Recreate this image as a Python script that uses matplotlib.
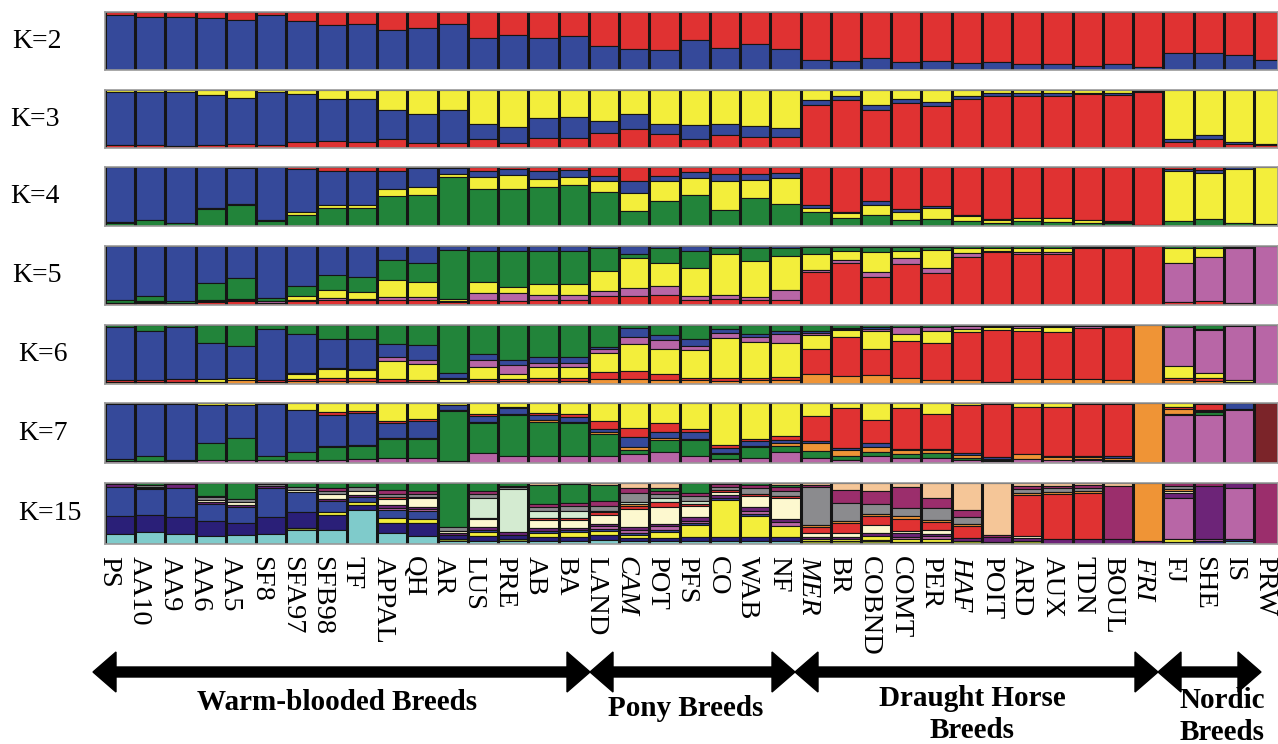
import numpy as np
import matplotlib
matplotlib.use("Agg")
import matplotlib.pyplot as plt
from matplotlib.patches import Polygon

breeds = ["PS", "AA10", "AA9", "AA6", "AA5", "SF8", "SFA97", "SFB98", "TF", "APPAL",
          "QH", "AR", "LUS", "PRE", "AB", "BA", "LAND", "CAM", "POT", "PFS", "CO",
          "WAB", "NF", "MER", "BR", "COBND", "COMT", "PER", "HAF", "POIT", "ARD",
          "AUX", "TDN", "BOUL", "FRI", "FJ", "SHE", "IS", "PRW"]
italic_breeds = ["CAM", "MER", "HAF", "FRI"]

# colours
BLUE, RED, YEL, GRN = "#35499a", "#e03232", "#f3ee3b", "#22843a"
PINK, ORA, MAR = "#b866a6", "#ef9436", "#7b2429"

# stacking order is top -> bottom in every row list
k2_cols = [RED, BLUE]
k2_red = [0.05, 0.08, 0.08, 0.10, 0.13, 0.06, 0.15, 0.22, 0.20, 0.31, 0.27, 0.20, 0.44,
          0.40, 0.44, 0.42, 0.58, 0.63, 0.65, 0.49, 0.62, 0.55, 0.63, 0.82, 0.85, 0.80,
          0.87, 0.85, 0.88, 0.87, 0.89, 0.89, 0.93, 0.90, 0.94, 0.71, 0.71, 0.74, 0.83]
k2 = [[r, 1 - r] for r in k2_red]

k3_cols = [YEL, BLUE, RED]
k3 = [[0.03, 0.92, 0.05], [0.03, 0.92, 0.05], [0.03, 0.93, 0.04], [0.09, 0.85, 0.06],
      [0.13, 0.80, 0.07], [0.04, 0.91, 0.05], [0.07, 0.83, 0.10], [0.15, 0.73, 0.12],
      [0.16, 0.73, 0.11], [0.35, 0.50, 0.15], [0.42, 0.49, 0.09], [0.35, 0.56, 0.09],
      [0.59, 0.26, 0.15], [0.64, 0.27, 0.09], [0.48, 0.35, 0.17], [0.47, 0.36, 0.17],
      [0.53, 0.21, 0.26], [0.42, 0.26, 0.32], [0.59, 0.16, 0.25], [0.60, 0.25, 0.15],
      [0.59, 0.19, 0.22], [0.62, 0.19, 0.19], [0.65, 0.16, 0.19], [0.17, 0.09, 0.74],
      [0.10, 0.08, 0.82], [0.26, 0.09, 0.65], [0.16, 0.06, 0.78], [0.20, 0.07, 0.73],
      [0.10, 0.06, 0.84], [0.06, 0.04, 0.90], [0.06, 0.04, 0.90], [0.06, 0.05, 0.89],
      [0.05, 0.02, 0.93], [0.05, 0.03, 0.92], [0.01, 0.03, 0.96], [0.84, 0.06, 0.10],
      [0.77, 0.08, 0.15], [0.90, 0.03, 0.07], [0.93, 0.02, 0.05]]

k4_cols = [RED, BLUE, YEL, GRN]
k4 = [[0.00, 0.94, 0.01, 0.05], [0.00, 0.90, 0.00, 0.10], [0.00, 0.95, 0.00, 0.05],
      [0.00, 0.69, 0.03, 0.28], [0.01, 0.61, 0.03, 0.35], [0.00, 0.90, 0.01, 0.09],
      [0.04, 0.73, 0.04, 0.19], [0.07, 0.58, 0.05, 0.30], [0.07, 0.57, 0.05, 0.31],
      [0.07, 0.30, 0.13, 0.50], [0.02, 0.32, 0.14, 0.52], [0.01, 0.11, 0.05, 0.83],
      [0.06, 0.11, 0.20, 0.63], [0.03, 0.11, 0.24, 0.62], [0.06, 0.14, 0.14, 0.66],
      [0.05, 0.12, 0.14, 0.69], [0.16, 0.07, 0.20, 0.57], [0.24, 0.20, 0.31, 0.25],
      [0.16, 0.08, 0.33, 0.43], [0.08, 0.11, 0.28, 0.53], [0.12, 0.11, 0.50, 0.27],
      [0.12, 0.10, 0.31, 0.47], [0.11, 0.07, 0.44, 0.38], [0.65, 0.04, 0.07, 0.24],
      [0.76, 0.02, 0.08, 0.14], [0.58, 0.06, 0.18, 0.18], [0.72, 0.04, 0.14, 0.10],
      [0.66, 0.03, 0.19, 0.12], [0.82, 0.01, 0.09, 0.08], [0.88, 0.02, 0.05, 0.05],
      [0.86, 0.01, 0.05, 0.08], [0.86, 0.01, 0.07, 0.06], [0.90, 0.00, 0.05, 0.05],
      [0.92, 0.02, 0.01, 0.05], [0.98, 0.00, 0.00, 0.02], [0.03, 0.03, 0.86, 0.08],
      [0.05, 0.05, 0.78, 0.12], [0.00, 0.03, 0.92, 0.05], [0.00, 0.00, 0.97, 0.03]]

k5_cols = [BLUE, GRN, YEL, PINK, RED]
k5 = [[0.91, 0.05, 0.00, 0.01, 0.03], [0.85, 0.08, 0.02, 0.01, 0.04], [0.94, 0.03, 0.00, 0.00, 0.03],
      [0.63, 0.28, 0.02, 0.02, 0.05], [0.54, 0.35, 0.03, 0.02, 0.06], [0.88, 0.05, 0.01, 0.02, 0.04],
      [0.68, 0.16, 0.07, 0.02, 0.07], [0.50, 0.24, 0.14, 0.03, 0.09], [0.52, 0.26, 0.11, 0.03, 0.08],
      [0.23, 0.34, 0.29, 0.05, 0.09], [0.28, 0.33, 0.26, 0.05, 0.08], [0.06, 0.83, 0.04, 0.02, 0.05],
      [0.08, 0.53, 0.18, 0.12, 0.09], [0.08, 0.61, 0.10, 0.15, 0.06], [0.08, 0.57, 0.18, 0.08, 0.09],
      [0.08, 0.57, 0.18, 0.08, 0.09], [0.04, 0.38, 0.34, 0.09, 0.15], [0.14, 0.07, 0.50, 0.13, 0.16],
      [0.04, 0.24, 0.40, 0.15, 0.17], [0.08, 0.29, 0.48, 0.06, 0.09], [0.03, 0.11, 0.69, 0.07, 0.10],
      [0.04, 0.21, 0.61, 0.05, 0.09], [0.04, 0.13, 0.58, 0.16, 0.09], [0.01, 0.13, 0.26, 0.04, 0.56],
      [0.01, 0.08, 0.14, 0.05, 0.72], [0.02, 0.09, 0.33, 0.09, 0.47], [0.01, 0.07, 0.12, 0.11, 0.69],
      [0.01, 0.06, 0.30, 0.08, 0.55], [0.00, 0.03, 0.09, 0.07, 0.81], [0.00, 0.03, 0.06, 0.02, 0.89],
      [0.00, 0.03, 0.07, 0.03, 0.87], [0.00, 0.03, 0.07, 0.03, 0.87], [0.00, 0.02, 0.00, 0.02, 0.96],
      [0.00, 0.02, 0.00, 0.02, 0.96], [0.00, 0.00, 0.00, 0.00, 1.00], [0.00, 0.03, 0.26, 0.66, 0.05],
      [0.00, 0.04, 0.15, 0.74, 0.07], [0.00, 0.01, 0.03, 0.93, 0.03], [0.00, 0.00, 0.00, 1.00, 0.00]]

k6_cols = [GRN, BLUE, PINK, YEL, RED, ORA]
k6 = [[0.04, 0.89, 0.00, 0.00, 0.03, 0.04], [0.11, 0.82, 0.00, 0.00, 0.03, 0.04],
      [0.03, 0.89, 0.00, 0.00, 0.04, 0.04], [0.30, 0.62, 0.00, 0.04, 0.00, 0.04],
      [0.35, 0.54, 0.00, 0.05, 0.00, 0.06], [0.07, 0.86, 0.00, 0.00, 0.03, 0.04],
      [0.15, 0.66, 0.02, 0.08, 0.04, 0.05], [0.23, 0.50, 0.02, 0.15, 0.05, 0.05],
      [0.24, 0.51, 0.02, 0.13, 0.05, 0.05], [0.32, 0.22, 0.07, 0.30, 0.05, 0.04],
      [0.34, 0.26, 0.06, 0.27, 0.04, 0.03], [0.82, 0.07, 0.02, 0.05, 0.00, 0.04],
      [0.49, 0.10, 0.12, 0.20, 0.04, 0.05], [0.59, 0.08, 0.16, 0.08, 0.04, 0.05],
      [0.55, 0.10, 0.07, 0.17, 0.06, 0.05], [0.55, 0.10, 0.07, 0.17, 0.06, 0.05],
      [0.37, 0.04, 0.07, 0.32, 0.12, 0.08], [0.05, 0.16, 0.11, 0.46, 0.14, 0.08],
      [0.17, 0.09, 0.15, 0.42, 0.11, 0.06], [0.23, 0.12, 0.08, 0.46, 0.05, 0.06],
      [0.06, 0.07, 0.09, 0.67, 0.06, 0.05], [0.16, 0.04, 0.09, 0.60, 0.05, 0.06],
      [0.11, 0.05, 0.14, 0.58, 0.06, 0.06], [0.10, 0.03, 0.04, 0.23, 0.43, 0.17],
      [0.05, 0.02, 0.02, 0.12, 0.65, 0.14], [0.03, 0.03, 0.05, 0.29, 0.45, 0.15],
      [0.04, 0.00, 0.11, 0.12, 0.63, 0.10], [0.03, 0.00, 0.07, 0.20, 0.63, 0.07],
      [0.01, 0.01, 0.04, 0.06, 0.82, 0.06], [0.02, 0.02, 0.00, 0.04, 0.88, 0.04],
      [0.01, 0.01, 0.03, 0.06, 0.81, 0.08], [0.01, 0.01, 0.02, 0.08, 0.80, 0.08],
      [0.01, 0.01, 0.03, 0.00, 0.87, 0.08], [0.02, 0.01, 0.00, 0.00, 0.91, 0.06],
      [0.00, 0.00, 0.00, 0.00, 0.00, 1.00], [0.03, 0.00, 0.66, 0.20, 0.05, 0.06],
      [0.07, 0.02, 0.72, 0.09, 0.05, 0.05], [0.02, 0.00, 0.91, 0.03, 0.02, 0.02],
      [0.00, 0.00, 1.00, 0.00, 0.00, 0.00]]

k7_cols = [YEL, RED, BLUE, ORA, GRN, PINK, MAR]
k7 = [[0.02, 0.00, 0.92, 0.00, 0.03, 0.03, 0], [0.02, 0.00, 0.86, 0.00, 0.09, 0.03, 0],
      [0.02, 0.00, 0.93, 0.00, 0.02, 0.03, 0], [0.04, 0.00, 0.62, 0.00, 0.29, 0.05, 0],
      [0.04, 0.00, 0.55, 0.00, 0.36, 0.05, 0], [0.02, 0.00, 0.87, 0.00, 0.06, 0.05, 0],
      [0.11, 0.00, 0.70, 0.00, 0.14, 0.05, 0], [0.15, 0.05, 0.52, 0.02, 0.21, 0.05, 0],
      [0.14, 0.03, 0.53, 0.01, 0.23, 0.06, 0], [0.30, 0.04, 0.25, 0.01, 0.31, 0.09, 0],
      [0.26, 0.04, 0.29, 0.01, 0.31, 0.09, 0], [0.03, 0.01, 0.07, 0.02, 0.83, 0.04, 0],
      [0.18, 0.04, 0.10, 0.02, 0.50, 0.16, 0], [0.07, 0.02, 0.09, 0.02, 0.68, 0.12, 0],
      [0.17, 0.03, 0.09, 0.03, 0.56, 0.12, 0], [0.18, 0.05, 0.08, 0.02, 0.56, 0.11, 0],
      [0.30, 0.13, 0.06, 0.03, 0.36, 0.12, 0], [0.42, 0.15, 0.16, 0.05, 0.07, 0.15, 0],
      [0.34, 0.14, 0.11, 0.03, 0.19, 0.19, 0], [0.44, 0.04, 0.12, 0.02, 0.26, 0.12, 0],
      [0.70, 0.05, 0.08, 0.02, 0.08, 0.07, 0], [0.60, 0.04, 0.08, 0.02, 0.18, 0.08, 0],
      [0.55, 0.06, 0.05, 0.05, 0.11, 0.18, 0], [0.21, 0.43, 0.02, 0.14, 0.12, 0.08, 0],
      [0.09, 0.66, 0.03, 0.10, 0.07, 0.05, 0], [0.29, 0.38, 0.07, 0.07, 0.07, 0.12, 0],
      [0.09, 0.68, 0.02, 0.06, 0.06, 0.09, 0], [0.19, 0.58, 0.02, 0.05, 0.07, 0.09, 0],
      [0.04, 0.80, 0.03, 0.05, 0.03, 0.05, 0], [0.02, 0.88, 0.04, 0.01, 0.02, 0.03, 0],
      [0.07, 0.78, 0.00, 0.09, 0.00, 0.06, 0], [0.07, 0.82, 0.01, 0.05, 0.00, 0.05, 0],
      [0.02, 0.86, 0.02, 0.04, 0.01, 0.05, 0], [0.01, 0.88, 0.02, 0.04, 0.01, 0.04, 0],
      [0.00, 0.00, 0.00, 1.00, 0.00, 0.00, 0], [0.07, 0.03, 0.00, 0.08, 0.02, 0.80, 0],
      [0.02, 0.09, 0.02, 0.02, 0.05, 0.80, 0], [0.00, 0.00, 0.10, 0.00, 0.02, 0.88, 0],
      [0, 0, 0, 0, 0, 0, 1.0]]

# K=15 clusters, top -> bottom
k15_names = ["peach", "green", "plum", "grey", "lgreen", "orange", "red", "cream",
             "purple", "pink", "blue", "yellow", "navy", "olive", "cyan"]
k15_colmap = {"peach": "#f5c698", "green": GRN, "plum": "#9b2e6c", "grey": "#8b8b8e",
              "lgreen": "#d4ebd1", "orange": ORA, "red": RED, "cream": "#fdf8cf",
              "purple": "#6d2478", "pink": PINK, "blue": BLUE, "yellow": YEL,
              "navy": "#2a1f78", "olive": "#8d9b2c", "cyan": "#7fcbcb"}
k15_parts = [
    dict(grey=0.02, purple=0.04, blue=0.48, navy=0.30, cyan=0.16),
    dict(green=0.03, grey=0.03, cream=0.02, purple=0.02, blue=0.43, navy=0.28, cyan=0.19),
    dict(purple=0.06, grey=0.02, blue=0.47, navy=0.29, cyan=0.16),
    dict(green=0.21, plum=0.02, grey=0.04, cream=0.04, purple=0.02, blue=0.28, navy=0.24, cyan=0.12),
    dict(green=0.26, grey=0.04, cream=0.06, purple=0.02, blue=0.26, navy=0.20, cyan=0.14),
    dict(green=0.02, purple=0.04, grey=0.03, blue=0.46, navy=0.29, cyan=0.16),
    dict(green=0.06, grey=0.05, cream=0.04, blue=0.32, olive=0.03, navy=0.26, cyan=0.22),
    dict(green=0.08, plum=0.05, grey=0.05, cream=0.07, purple=0.04, blue=0.18, yellow=0.04, navy=0.25, cyan=0.22),
    dict(green=0.07, grey=0.06, cream=0.06, purple=0.04, blue=0.08, yellow=0.05, navy=0.09, cyan=0.55),
    dict(green=0.12, grey=0.06, plum=0.05, red=0.03, cream=0.10, purple=0.04, pink=0.03, blue=0.14, yellow=0.07, navy=0.16, cyan=0.18),
    dict(green=0.12, grey=0.05, plum=0.05, red=0.02, cream=0.13, purple=0.03, pink=0.03, blue=0.13, yellow=0.07, navy=0.20, cyan=0.12),
    dict(green=0.72, grey=0.06, cream=0.04, purple=0.03, navy=0.06, olive=0.04, cyan=0.05),
    dict(green=0.12, grey=0.05, lgreen=0.30, plum=0.05, red=0.02, cream=0.12, purple=0.04, blue=0.03, yellow=0.06, navy=0.07, cyan=0.05),
    dict(green=0.05, grey=0.03, lgreen=0.68, plum=0.02, purple=0.05, navy=0.06, olive=0.03, cyan=0.05),
    dict(peach=0.03, green=0.28, grey=0.06, lgreen=0.11, plum=0.05, red=0.03, cream=0.12, purple=0.04, blue=0.03, yellow=0.06, navy=0.06, cyan=0.05),
    dict(peach=0.02, green=0.28, grey=0.08, lgreen=0.10, plum=0.04, red=0.02, cream=0.12, purple=0.03, blue=0.04, yellow=0.06, navy=0.06, cyan=0.05),
    dict(peach=0.03, green=0.22, plum=0.08, grey=0.06, orange=0.02, red=0.04, cream=0.13, purple=0.03, pink=0.04, blue=0.03, yellow=0.06, navy=0.07, cyan=0.05),
    dict(peach=0.07, plum=0.08, grey=0.14, lgreen=0.03, orange=0.03, red=0.04, cream=0.26, purple=0.05, pink=0.04, blue=0.03, yellow=0.05, navy=0.05, cyan=0.04),
    dict(peach=0.07, green=0.05, plum=0.04, grey=0.06, lgreen=0.06, red=0.06, cream=0.25, purple=0.03, pink=0.06, blue=0.03, yellow=0.08, navy=0.05, cyan=0.04),
    dict(green=0.15, plum=0.04, grey=0.08, lgreen=0.04, red=0.04, cream=0.15, purple=0.06, pink=0.04, blue=0.03, yellow=0.18, navy=0.06, cyan=0.04),
    dict(green=0.02, plum=0.04, grey=0.05, red=0.03, cream=0.04, purple=0.05, blue=0.03, yellow=0.55, navy=0.05, cyan=0.05),
    dict(green=0.03, plum=0.05, grey=0.08, red=0.03, cream=0.17, purple=0.05, pink=0.05, blue=0.03, yellow=0.30, navy=0.06, cyan=0.05),
    dict(peach=0.03, green=0.03, plum=0.05, grey=0.08, red=0.03, cream=0.31, purple=0.04, pink=0.06, yellow=0.16, navy=0.06, cyan=0.04),
    dict(peach=0.03, plum=0.03, grey=0.58, orange=0.03, red=0.09, cream=0.06, purple=0.03, yellow=0.04, olive=0.04),
    dict(peach=0.10, plum=0.21, grey=0.27, orange=0.03, red=0.15, cream=0.06, purple=0.03, yellow=0.04, olive=0.04),
    dict(peach=0.11, plum=0.19, grey=0.15, orange=0.03, red=0.12, cream=0.12, purple=0.04, yellow=0.06, navy=0.02, olive=0.04),
    dict(peach=0.05, plum=0.30, grey=0.12, orange=0.04, red=0.16, cream=0.04, purple=0.05, pink=0.03, yellow=0.04, olive=0.03),
    dict(peach=0.23, plum=0.16, grey=0.18, orange=0.03, red=0.13, cream=0.05, purple=0.04, pink=0.04, yellow=0.05, olive=0.03),
    dict(peach=0.42, plum=0.11, grey=0.11, orange=0.03, red=0.19, purple=0.06, olive=0.04),
    dict(peach=0.83, plum=0.03, purple=0.08, olive=0.03),
    dict(peach=0.05, plum=0.05, grey=0.06, orange=0.03, red=0.62, cream=0.03, purple=0.05, olive=0.05),
    dict(peach=0.04, plum=0.04, grey=0.05, orange=0.03, red=0.68, purple=0.08),
    dict(peach=0.03, plum=0.04, grey=0.05, orange=0.03, red=0.70, purple=0.07),
    dict(peach=0.04, plum=0.82, purple=0.08),
    dict(orange=0.94, purple=0.05),
    dict(plum=0.05, grey=0.04, orange=0.03, cream=0.03, purple=0.06, pink=0.60, yellow=0.04, cyan=0.03),
    dict(plum=0.05, purple=0.82, pink=0.04, navy=0.04),
    dict(purple=0.08, pink=0.80, navy=0.03, cyan=0.05),
    dict(plum=1.0),
]
k15 = [[d.get(n, 0.0) for n in k15_names] for d in k15_parts]
k15_cols = [k15_colmap[n] for n in k15_names]

rows = [("K=2", k2, k2_cols), ("K=3", k3, k3_cols), ("K=4", k4, k4_cols),
        ("K=5", k5, k5_cols), ("K=6", k6, k6_cols), ("K=7", k7, k7_cols),
        ("K=15", k15, k15_cols)]

groups = [("Warm-blooded Breeds", 93, 590), ("Pony Breeds", 590, 795),
          ("Draught Horse\nBreeds", 795, 1158), ("Nordic\nBreeds", 1158, 1261)]

W, H = 1278, 744
fig = plt.figure(figsize=(W / 100, H / 100), dpi=100)
serif = "Liberation Serif"

row_tops = [12, 90, 167, 246, 325, 403, 483]
row_h = [58, 58, 59, 59, 59, 60, 61]
label_x = [12, 10, 10, 12, 18, 18, 18]
left_px = 105
col_w = 30.24
n = len(breeds)

for (lab, data, cols), top, h, lx in zip(rows, row_tops, row_h, label_x):
    ax = fig.add_axes([left_px / W, 1 - (top + h) / H, (W - left_px) / W, h / H])
    arr = np.array(data, dtype=float)
    arr = arr / arr.sum(axis=1, keepdims=True)
    for i in range(n):
        upper = 1.0
        for j, v in enumerate(arr[i]):
            if v <= 0:
                continue
            ax.bar(i, v, bottom=upper - v, width=1.0, color=cols[j],
                   edgecolor="#151515", linewidth=0.8)
            upper -= v
    ax.vlines(np.arange(-0.5, n), 0, 1, color="#151515", lw=2.2)
    ax.set_xlim(-0.5, -0.5 + (W - left_px) / col_w)
    ax.set_ylim(0, 1)
    ax.set_xticks([])
    ax.set_yticks([])
    for s in ax.spines.values():
        s.set_color("#9a9a9a")
        s.set_linewidth(1.2)
    fig.text(lx / W, 1 - (top + h / 2) / H, lab, fontsize=20, family=serif,
             ha="left", va="center")

# breed names under the last row
for i, b in enumerate(breeds):
    xp = 109 + 30.42 * i
    fig.text(xp / W, 1 - 556 / H, b, rotation=270, ha="center", va="top",
             fontsize=20.5, family=serif,
             style="italic" if b in italic_breeds else "normal")

# group arrows and titles
ov = fig.add_axes([0, 0, 1, 1])
ov.set_xlim(0, W)
ov.set_ylim(H, 0)
ov.axis("off")
ya, sw, hw, hl = 672, 5, 20, 23
for name, x0, x1 in groups:
    pts = [(x0, ya), (x0 + hl, ya - hw), (x0 + hl, ya - sw), (x1 - hl, ya - sw),
           (x1 - hl, ya - hw), (x1, ya), (x1 - hl, ya + hw), (x1 - hl, ya + sw),
           (x0 + hl, ya + sw), (x0 + hl, ya + hw)]
    ov.add_patch(Polygon(pts, closed=True, color="black"))

ov.text(337, 703, "Warm-blooded Breeds", fontsize=21, family=serif, weight="bold",
        ha="center", va="center")
ov.text(686, 708, "Pony Breeds", fontsize=21, family=serif, weight="bold",
        ha="center", va="center")
ov.text(972, 698, "Draught Horse", fontsize=21, family=serif, weight="bold",
        ha="center", va="center")
ov.text(972, 731, "Breeds", fontsize=21, family=serif, weight="bold",
        ha="center", va="center")
ov.text(1222, 700, "Nordic", fontsize=21, family=serif, weight="bold",
        ha="center", va="center")
ov.text(1222, 732, "Breeds", fontsize=21, family=serif, weight="bold",
        ha="center", va="center")

fig.savefig("out.png", dpi=100)
